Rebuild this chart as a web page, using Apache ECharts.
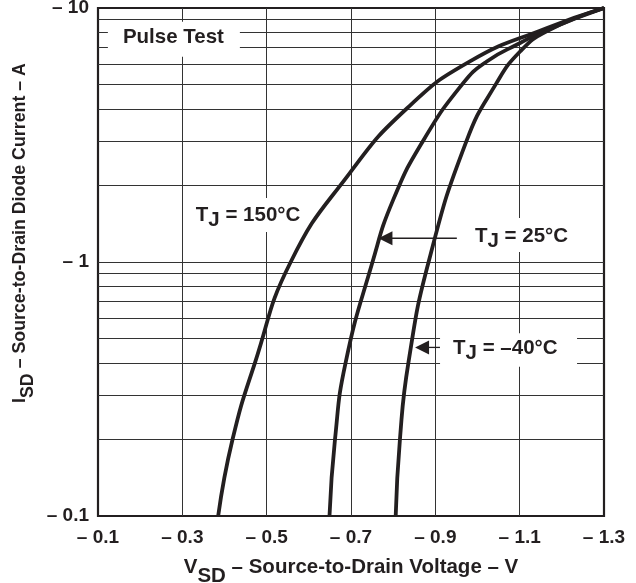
<!DOCTYPE html>
<html>
<head>
<meta charset="utf-8">
<script src="https://cdn.jsdelivr.net/npm/echarts@6/dist/echarts.min.js"></script>
<style>html,body{margin:0;padding:0;background:#fff;}#c{width:636px;height:583px;}</style>
</head>
<body>
<div id="c"></div>
<script>
// ---- data (V in volts shown as magnitude, I in amps shown as magnitude) ----
const v150 = [0.385, 0.419, 0.472, 0.557, 0.697, 0.833, 0.982, 1.165, 1.300];
const i150 = [0.1, 0.2, 0.4, 1.0, 2.24, 4.03, 6.16, 8.35, 10];

const v25 = [0.649, 0.662, 0.687, 0.751, 0.800, 0.871, 0.966, 1.022, 1.101, 1.164, 1.300];
const i25 = [0.1, 0.2, 0.4, 1.0, 1.756, 3.0, 5.06, 6.16, 7.28, 8.2, 10];

const vm40 = [0.806, 0.816, 0.836, 0.884, 0.974, 1.045, 1.101, 1.164, 1.300];
const im40 = [0.1, 0.2, 0.4, 1.0, 3.0, 5.06, 6.74, 8.1, 10];

const xMin = 0.1, xMax = 1.3, xStep = 0.1;
const yMin = 0.1, yMax = 10;
const xLabelValues = [0.1, 0.3, 0.5, 0.7, 0.9, 1.1, 1.3];
const gridV = [0.3, 0.5, 0.7, 0.9, 1.1];
const gridH = [0.2, 0.3, 0.4, 0.5, 0.6, 0.7, 0.8, 0.9, 1, 2, 3, 4, 5, 6, 7, 8, 9];

const xTitle = ['V', 'SD', ' – Source-to-Drain Voltage – V'];
const yTitle = ['I', 'SD', ' – Source-to-Drain Diode Current – A'];

// annotations: anchor in data coords (left edge, vertical centre of text)
const notes = [
  { parts: ['Pulse Test'], v: 0.159, i: 7.67, dy: 0, box: [-15, -15.5, 132, 35] },
  { parts: ['T', 'J', ' = 150°C'], v: 0.332, i: 1.546, dy: 3.5, box: [-6, -16, 112, 34] },
  { parts: ['T', 'J', ' = 25°C'], v: 0.994, i: 1.278, dy: 3.5, box: [-13, -17, 121, 34] },
  { parts: ['T', 'J', ' = –40°C'], v: 0.942, i: 0.460, dy: 3.5, box: [-13, -14.5, 137, 33.5] }
];
const arrows = [
  { tipV: 0.765, tailV: 0.951, i: 1.24 },
  { tipV: 0.852, tailV: 0.911, i: 0.461 }
];

// ---- chart ----
const INK = '#231f20';
const FONT = '"Liberation Sans", Arial, Helvetica, sans-serif';
const pair = (xs, ys) => xs.map((x, k) => [x, ys[k]]);

const chart = echarts.init(document.getElementById('c'), null, { renderer: 'canvas' });

function curve(name, data) {
  return {
    name, type: 'line', data, smooth: 0.5, symbol: 'none', z: 5,
    lineStyle: { color: INK, width: 3.8 }
  };
}

const richMain = { fontFamily: FONT, fontWeight: 'bold', fontSize: 20.5, color: INK, verticalAlign: 'top' };
const richSub = { fontFamily: FONT, fontWeight: 'bold', fontSize: 20.5, color: INK, verticalAlign: 'top', padding: [9, 0, 0, 0] };

chart.setOption({
  animation: false,
  backgroundColor: '#fff',
  grid: {
    left: 98, right: 32, top: 8, bottom: 67, containLabel: false, outerBoundsMode: 'none',
    show: true, borderColor: INK, borderWidth: 2.2, backgroundColor: 'transparent'
  },
  xAxis: {
    type: 'value', min: xMin, max: xMax, interval: xStep,
    axisLine: { show: false }, axisTick: { show: false }, splitLine: { show: false },
    axisLabel: {
      margin: 12, color: INK, fontFamily: FONT, fontWeight: 'bold', fontSize: 19,
      formatter: v => xLabelValues.some(t => Math.abs(t - v) < 1e-6) ? '– ' + v.toFixed(1) : ''
    },
    name: '{m|' + xTitle[0] + '}{s|' + xTitle[1] + '}{m|' + xTitle[2] + '}',
    nameLocation: 'middle', nameGap: 41,
    nameTextStyle: { rich: { m: richMain, s: richSub } }
  },
  yAxis: {
    type: 'log', logBase: 10, min: yMin, max: yMax,
    axisLine: { show: false }, axisTick: { show: false }, splitLine: { show: false },
    axisLabel: {
      margin: 9, color: INK, fontFamily: FONT, fontWeight: 'bold', fontSize: 19,
      formatter: v => '– ' + (+v.toPrecision(3))
    }
  },
  series: [
    {
      name: 'grid', type: 'line', data: [], z: 1, silent: true,
      markLine: {
        silent: true, symbol: 'none', label: { show: false }, animation: false,
        lineStyle: { color: '#333', width: 1, type: 'solid' },
        data: gridV.map(v => ({ xAxis: v })).concat(gridH.map(v => ({ yAxis: v })))
      }
    },
    curve('150', pair(v150, i150)),
    curve('25', pair(v25, i25)),
    curve('-40', pair(vm40, im40))
  ]
});

function richText(parts) {
  if (parts.length === 1) return '{m|' + parts[0] + '}';
  return '{m|' + parts[0] + '}{s|' + parts[1] + '}{m|' + parts[2] + '}';
}

const g = [];
notes.forEach(n => {
  const p = chart.convertToPixel({ gridIndex: 0 }, [n.v, n.i]);
  g.push({ type: 'rect', z: 50, shape: { x: p[0] + n.box[0], y: p[1] + n.box[1], width: n.box[2], height: n.box[3] }, style: { fill: '#fff' } });
  g.push({
    type: 'text', z: 60, x: p[0], y: p[1] + n.dy,
    style: {
      text: richText(n.parts), align: 'left', verticalAlign: 'middle',
      rich: {
        m: { fontFamily: FONT, fontWeight: 'bold', fontSize: 20.5, fill: INK, verticalAlign: 'top' },
        s: { fontFamily: FONT, fontWeight: 'bold', fontSize: 20.5, fill: INK, verticalAlign: 'top', padding: [5, 0, 0, 0] }
      }
    }
  });
});
arrows.forEach(a => {
  const tip = chart.convertToPixel({ gridIndex: 0 }, [a.tipV, a.i]);
  const tail = chart.convertToPixel({ gridIndex: 0 }, [a.tailV, a.i]);
  g.push({ type: 'line', z: 60, shape: { x1: tip[0] + 10, y1: tip[1], x2: tail[0], y2: tail[1] }, style: { stroke: INK, lineWidth: 1.3 } });
  g.push({ type: 'polygon', z: 61, shape: { points: [[tip[0], tip[1]], [tip[0] + 14, tip[1] - 7], [tip[0] + 14, tip[1] + 7]] }, style: { fill: INK } });
});
// y-axis title (rotated), centred at its position in the reference
g.push({
  type: 'text', z: 60, x: 24, y: 233, rotation: Math.PI / 2,
  style: {
    text: '{m|' + yTitle[0] + '}{s|' + yTitle[1] + '}{m|' + yTitle[2] + '}',
    align: 'center', verticalAlign: 'middle',
    rich: {
      m: { fontFamily: FONT, fontWeight: 'bold', fontSize: 17.8, fill: INK, verticalAlign: 'top' },
      s: { fontFamily: FONT, fontWeight: 'bold', fontSize: 17.8, fill: INK, verticalAlign: 'top', padding: [8, 0, 0, 0] }
    }
  }
});
chart.setOption({ graphic: g });
</script>
</body>
</html>
